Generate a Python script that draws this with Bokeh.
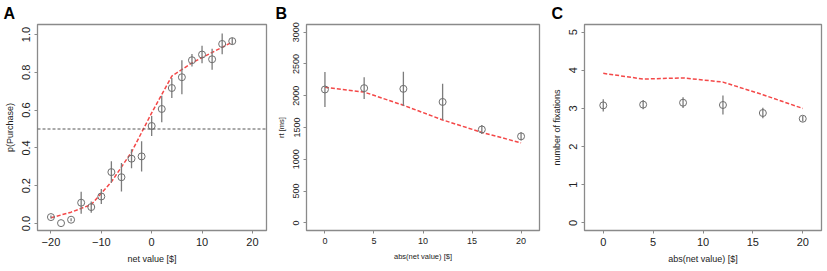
from bokeh.plotting import figure
from bokeh.layouts import row
from bokeh.models import FixedTicker, Span, Range1d
from bokeh.embed import file_html
from bokeh.resources import INLINE

FONT = "Liberation Sans"

# ---------------- Panel A ----------------
a_x = [-20, -18, -16, -14, -12, -10, -8, -6, -4, -2, 0, 2, 4, 6, 8, 10, 12, 14, 16]
a_p = [0.034, 0.002, 0.02, 0.11, 0.087, 0.143, 0.272, 0.245, 0.343, 0.355, 0.516,
       0.606, 0.717, 0.774, 0.864, 0.894, 0.869, 0.95, 0.965]
a_err = [0.008, 0.0, 0.008, 0.058, 0.03, 0.04, 0.057, 0.075, 0.05, 0.08, 0.053,
         0.07, 0.053, 0.09, 0.033, 0.046, 0.056, 0.055, 0.018]
a_fit_x = [-20, -16, -12, -8, -4, 0, 4, 8, 12, 16]
a_fit_y = [0.03, 0.06, 0.10, 0.22, 0.378, 0.585, 0.78, 0.85, 0.905, 0.96]
a_xticks = [-20, -10, 0, 10, 20]
a_yticks = [0.0, 0.2, 0.4, 0.6, 0.8, 1.0]
a_yticklabels = ["0.0", "0.2", "0.4", "0.6", "0.8", "1.0"]

# ---------------- Panel B ----------------
b_x = [0, 4, 8, 12, 16, 20]
b_rt = [2098, 2119, 2108, 1902, 1469, 1361]
b_err = [275, 170, 270, 285, 70, 65]
b_fit = [2134, 2057, 1850, 1619, 1423, 1258]
b_xticks = [0, 5, 10, 15, 20]
b_yticks = [0, 500, 1000, 1500, 2000, 2500, 3000]

# ---------------- Panel C ----------------
c_x = [0, 4, 8, 12, 16, 20]
c_fix = [3.08, 3.10, 3.15, 3.09, 2.88, 2.73]
c_err = [0.16, 0.12, 0.14, 0.25, 0.14, 0.07]
c_fit = [3.92, 3.77, 3.80, 3.69, 3.36, 3.00]
c_xticks = [0, 5, 10, 15, 20]
c_yticks = [0, 1, 2, 3, 4, 5]

BOX = "#8a8a8a"
TXT = "#222222"
PT = "#6e6e6e"
ERR = "#7c7c7c"
RED = "#f44848"


def panel(w, h, xr, yr, xt, yt, xlabel, ylabel, bl, br, bt, bb, tick_fs, lab_fs,
          letter, ytl=None):
    p = figure(width=w, height=h, x_range=Range1d(*xr), y_range=Range1d(*yr),
               output_backend="svg", toolbar_location=None, title=letter,
               min_border_left=bl, min_border_right=br,
               min_border_top=bt, min_border_bottom=bb)
    p.title.align = "left"
    p.title.offset = 3 - bl
    p.title.standoff = 5
    p.title.text_font = FONT
    p.title.text_font_size = "16px"
    p.title.text_font_style = "bold"
    p.title.text_color = "black"
    p.xgrid.visible = False
    p.ygrid.visible = False
    p.outline_line_color = BOX
    p.outline_line_width = 1.3
    p.background_fill_color = "white"
    p.border_fill_color = "white"
    p.xaxis.ticker = FixedTicker(ticks=xt)
    p.yaxis.ticker = FixedTicker(ticks=yt)
    if ytl is not None:
        p.yaxis.major_label_overrides = {t: s for t, s in zip(yt, ytl)}
    for ax in (p.xaxis[0], p.yaxis[0]):
        ax.axis_line_color = None
        ax.major_tick_in = 0
        ax.major_tick_out = 3
        ax.minor_tick_line_color = None
        ax.major_tick_line_color = BOX
        ax.major_label_text_font = FONT
        ax.major_label_text_font_size = tick_fs
        ax.major_label_text_color = TXT
        ax.axis_label_text_font = FONT
        ax.axis_label_text_font_size = lab_fs
        ax.axis_label_text_font_style = "normal"
        ax.axis_label_text_color = TXT
        ax.major_label_standoff = 4
        ax.axis_label_standoff = 5
    p.xaxis.axis_label = xlabel
    p.yaxis.axis_label = ylabel
    p.yaxis.major_label_orientation = "vertical"
    return p


def add_points(p, x, y, e):
    p.segment(x0=x, y0=[a - b for a, b in zip(y, e)], x1=x,
              y1=[a + b for a, b in zip(y, e)], line_color=ERR, line_width=1.3)
    p.scatter(x=x, y=y, marker="circle", size=7, fill_color=None,
              line_color=PT, line_width=1)


pa = panel(272, 271, (-22.67, 22.8), (-0.037, 1.053), a_xticks, a_yticks,
           "net value [$]", "p(Purchase)", 37, 6, 24, 41, "11px", "9px", "A",
           a_yticklabels)
pa.add_layout(Span(location=0.5, dimension="width", line_color="#555555",
                   line_dash="3 2", line_width=1))
pa.line(a_fit_x, a_fit_y, line_color=RED, line_dash="4 2", line_width=1.5)
add_points(pa, a_x, a_p, a_err)

pb = panel(276, 271, (-1.88, 21.88), (-120, 3120), b_xticks, b_yticks,
           "abs(net value) [$]", "rt [ms]", 34, 9, 23, 41, "9px", "7.5px", "B")
pb.line(b_x, b_fit, line_color=RED, line_dash="4 2", line_width=1.5)
add_points(pb, b_x, b_rt, b_err)

pc = panel(279, 271, (-1.88, 21.88), (-0.2, 5.2), c_xticks, c_yticks,
           "abs(net value) [$]", "number of fixations", 36, 6, 19, 39, "11px", "9px", "C")
pc.line(c_x, c_fit, line_color=RED, line_dash="4 2", line_width=1.5)
add_points(pc, c_x, c_fix, c_err)

layout = row(pa, pb, pc)
open("out.html", "w").write(file_html(layout, INLINE))
